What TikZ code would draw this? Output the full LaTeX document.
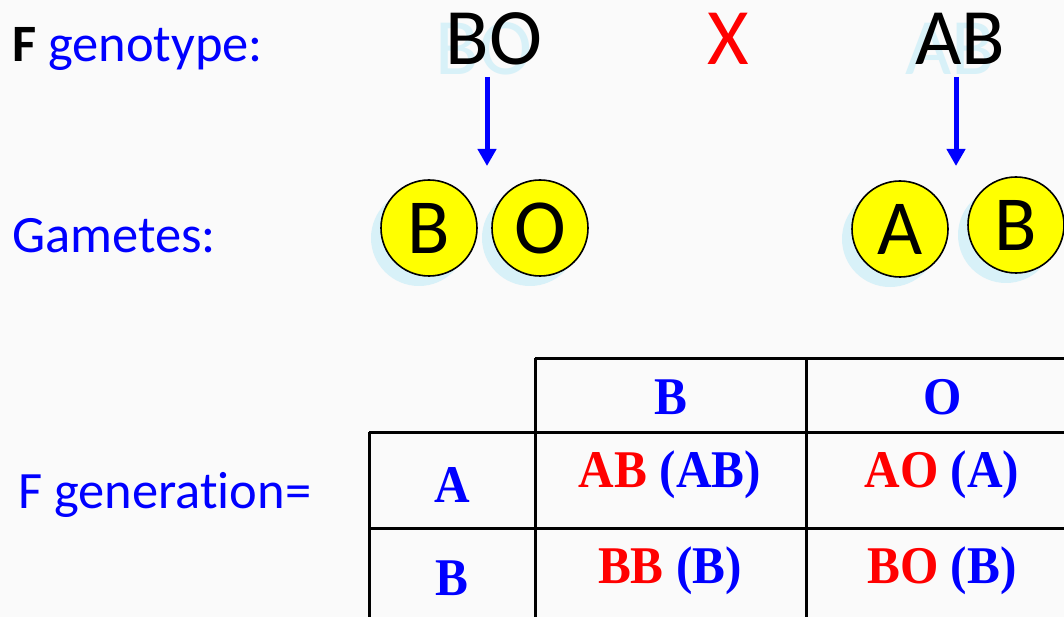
\documentclass[tikz,border=0pt]{standalone}
\usepackage{fontspec}
\setmainfont{Carlito}[Ligatures={NoCommon}]
\newfontfamily\tnr{Liberation Serif}
\usetikzlibrary{arrows.meta}
\definecolor{bg}{RGB}{250,250,250}
\definecolor{shade}{RGB}{216,241,248}
\definecolor{myblue}{RGB}{0,0,255}
\definecolor{myred}{RGB}{255,0,0}
\definecolor{gyellow}{RGB}{255,255,0}
\newcommand{\cellt}[1]{\scalebox{0.93}[1]{#1}}
\tikzset{
  lbl/.style={anchor=base west, inner sep=0pt, text=myblue, font=\fontsize{52.5}{58}\selectfont},
  big/.style={anchor=base, inner sep=0pt, font=\fontsize{80}{90}\selectfont},
  bigshade/.style={big, text=shade},
  arr/.style={myblue, line width=5pt, -{Triangle[length=17pt,width=18pt]}},
  gam/.style={circle, draw=black, line width=1.6pt, fill=gyellow, minimum size=96pt, inner sep=0pt, font=\fontsize{78}{80}\selectfont},
  gamshade/.style={circle, fill=shade, minimum size=96pt, inner sep=0pt},
  grid/.style={black, line width=3pt},
  cell/.style={anchor=base, inner sep=0pt, font=\tnr\bfseries\fontsize{53}{58}\selectfont},
}
\begin{document}
\begin{tikzpicture}[x=1pt,y=-1pt]
\fill[bg] (0,0) rectangle (1064,617);
\useasboundingbox (0,0) rectangle (1064,617);

% labels
\node[lbl] (fgen) at (12,62) {\textcolor{black}{\bfseries F} genotype:};
\node[lbl] (gam) at (12,253) {Gametes:};
\node[lbl] (fgn) at (18,508) {F generation=};

% parents
\node[bigshade] (p1s) at (484,75) {BO};
\node[big] (p1) at (494,65) {BO};
\node[big, text=myred] (cross) at (728,65) {X};
\node[bigshade] (p2s) at (950,75) {AB};
\node[big] (p2) at (960,65) {AB};

% arrows
\coordinate (a1s) at (487,77);
\coordinate (a1e) at (487,166);
\coordinate (a2s) at (956,77);
\coordinate (a2e) at (956,166);
\draw[arr] (a1s) -- (a1e);
\draw[arr] (a2s) -- (a2e);

% gametes
\node[gamshade] (g1s) at (419,238) {};
\node[gamshade] (g2s) at (530,238) {};
\node[gamshade] (g3s) at (890,239) {};
\node[gamshade] (g4s) at (1006,235) {};
\node[gam] (g1) at (429,228) {B};
\node[gam] (g2) at (540,228) {O};
\node[gam] (g3) at (900,229) {A};
\node[gam] (g4) at (1016,225) {B};

% table grid
\draw[grid] (535,358) -- (1064,358);
\draw[grid] (369,432) -- (1064,432);
\draw[grid] (369,528) -- (1064,528);
\draw[grid] (369,432) -- (369,617);
\draw[grid] (535,358) -- (535,617);
\draw[grid] (806,358) -- (806,617);

% table text
\node[cell, text=myblue] (hB) at (671,414) {\cellt{B}};
\node[cell, text=myblue] (hO) at (943,414) {\cellt{O}};
\node[cell, text=myblue] (rA) at (452,502) {\cellt{A}};
\node[cell, text=myblue] (rB) at (452,595) {\cellt{B}};
\node[cell] (c11) at (670,487) {\cellt{\textcolor{myred}{AB} \textcolor{myblue}{(AB)}}};
\node[cell] (c12) at (942,487) {\cellt{\textcolor{myred}{AO} \textcolor{myblue}{(A)}}};
\node[cell] (c21) at (670,583) {\cellt{\textcolor{myred}{BB} \textcolor{myblue}{(B)}}};
\node[cell] (c22) at (942,583) {\cellt{\textcolor{myred}{BO} \textcolor{myblue}{(B)}}};
\end{tikzpicture}
\end{document}
